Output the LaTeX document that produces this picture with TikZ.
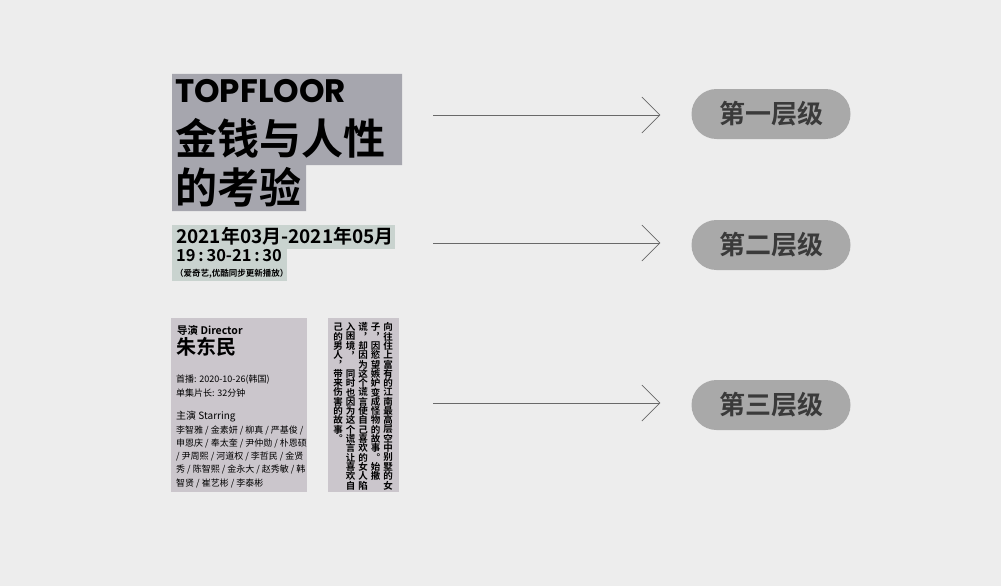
\documentclass[tikz,border=0pt]{standalone}
\usepackage{fontspec}
\setmainfont{Noto Sans CJK SC}[BoldFont={Noto Sans CJK SC Bold}]
\newfontfamily\poppins{Poppins}
\usetikzlibrary{arrows.meta, positioning}
\definecolor{bggray}{RGB}{237,237,237}
\definecolor{tlgray}{RGB}{166,166,174}
\definecolor{dtgreen}{RGB}{201,211,207}
\definecolor{crmauve}{RGB}{203,198,204}
\definecolor{lvgray}{RGB}{169,169,169}
\definecolor{lvtext}{RGB}{58,58,58}
\definecolor{arrgray}{RGB}{105,105,105}

\begin{document}
\begin{tikzpicture}[x=1pt, y=-1pt,
  every node/.style={inner sep=0pt, anchor=west, text=black},
  level/.style={rounded corners=25pt, fill=lvgray, text=lvtext, anchor=center,
        minimum width=159pt, minimum height=50pt,
        font=\fontsize{26}{26}\selectfont\bfseries},
  lvarrow/.style={-{Straight Barb[length=18pt, width=36pt]}, arrgray,
        line width=0.7pt, shorten >=31pt},
  small/.style={font=\fontsize{9}{9}\selectfont},
  vch/.style={anchor=center, font=\fontsize{9.5}{9.5}\selectfont\bfseries}]
  % Canvas
  \fill[bggray] (0,0) rectangle (1001,586);
  \useasboundingbox (0,0) rectangle (1001,586);

  % Title block
  \fill[tlgray] (172,74) -- (402,74) -- (402,165) -- (306,165)
    -- (306,211) -- (172,211) -- cycle;
  \node[font=\poppins\fontsize{32.5}{32.5}\selectfont\bfseries] (topfloor)
    at (175,91) {TOPFLOOR};
  \node[font=\fontsize{42}{42}\selectfont\bfseries] (title) at (175,138) {金钱与人性};
  \node[font=\fontsize{42}{42}\selectfont\bfseries] (title2) at (175,187) {的考验};

  % Air date
  \fill[dtgreen] (172,225) rectangle (395,249);
  \fill[dtgreen] (172,249) rectangle (287,281);
  \node[font=\fontsize{19}{19}\selectfont\bfseries] (date) at (176,236)
    {2021年03月-2021年05月};
  \node[font=\fontsize{16.5}{16.5}\selectfont\bfseries] (time) at (176,256)
    {19\,:\,30-21\,:\,30};
  \node[font=\fontsize{8.5}{8.5}\selectfont\bfseries] (platform) at (175,274)
    {（爱奇艺,优酷同步更新播放）};

  % Credits card
  \fill[crmauve] (171,318) rectangle (307,492);
  \node[font=\fontsize{10.5}{10.5}\selectfont\bfseries] (dirlabel) at (177,330)
    {导演 Director};
  \node[font=\fontsize{20}{20}\selectfont\bfseries] (director) at (176,347) {朱东民};
  \node[small] (premiere) at (176,380) {首播: 2020-10-26(韩国)};
  \node[small] (runtime) at (176,393) {单集片长: 32分钟};
  \node[font=\fontsize{10}{10}\selectfont] (castlabel) at (176,417) {主演 Starring};
  \foreach \names [count=\i from 0] in {李智雅 / 金素妍 / 柳真 / 严基俊 /,
      申恩庆 / 奉太奎 / 尹仲勋 / 朴恩硕, / 尹周熙 / 河道权 / 李哲民 / 金贤,
      秀 / 陈智熙 / 金永大 / 赵秀敏 / 韩, 智贤 / 崔艺彬 / 李泰彬}
    \node[small] (cast\i) at (176,430+13.3*\i) {\names};

  % Synopsis card, vertical columns right to left
  \fill[crmauve] (328,318) rectangle (399,492);
  \foreach \ch [count=\i] in {向,往,住,上,富,有,的,江,南,最,高,层,空,中,别,墅,的,女}
    \node[vch] (sa\i) at (388,318+9.3*\i) {\ch};
  \foreach \ch [count=\i] in {子,︐,因,慾,望,嫉,妒,变,成,怪,物,的,故,事,︒,始,撒}
    \node[vch] (sb\i) at (375.5,318+9.3*\i) {\ch};
  \foreach \ch [count=\i] in {谎,︐,却,因,为,这,个,谎,言,使,自,己,喜,欢,的,女,人,陷}
    \node[vch] (sc\i) at (363,318+9.3*\i) {\ch};
  \foreach \ch [count=\i] in {入,困,境,︐,{},同,时,也,因,为,这,个,谎,言,让,喜,欢,自}
    \node[vch] (sd\i) at (350.5,318+9.3*\i) {\ch};
  \foreach \ch [count=\i] in {己,的,男,人,︐,带,来,伤,害,的,故,事,︒}
    \node[vch] (se\i) at (338,318+9.3*\i) {\ch};

  % Levels
  \node[level] (l1) at (771,114) {第一层级};
  \node[level] (l2) at (771,245) {第二层级};
  \node[level] (l3) at (771,405) {第三层级};

  \coordinate (s1) at (433,115);
  \coordinate (s2) at (433,243);
  \coordinate (s3) at (433,403);
  \draw[lvarrow] (s1) -- (s1 -| l1.west);
  \draw[lvarrow] (s2) -- (s2 -| l2.west);
  \draw[lvarrow] (s3) -- (s3 -| l3.west);
\end{tikzpicture}
\end{document}
